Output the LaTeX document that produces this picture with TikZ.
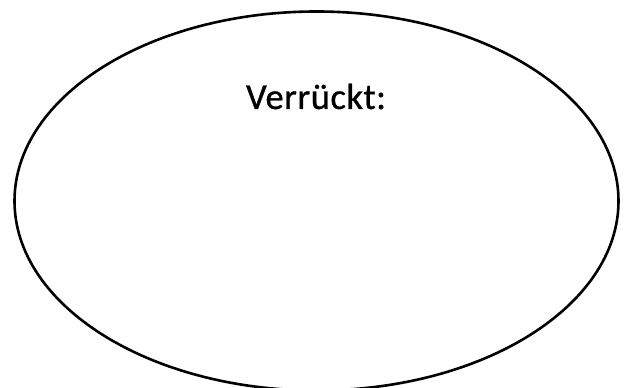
\documentclass[tikz,border=0pt]{standalone}
\usepackage{fontspec}
\setmainfont{Carlito}
\newfontfamily\titlefont[FakeBold=0.8,LetterSpace=1.5]{Carlito}
\begin{document}
\begin{tikzpicture}[x=1pt,y=1pt]
\useasboundingbox (0,0) rectangle (630,388);
\tikzset{ring/.style={draw=black,line width=2.6pt}}
\draw[ring] (316.5,187) ellipse [x radius=302, y radius=189.5];
\node[anchor=base,inner sep=0pt,font=\titlefont\fontsize{36.5}{42}\selectfont] (title) at (316,279) {Verrückt:};
\end{tikzpicture}
\end{document}
